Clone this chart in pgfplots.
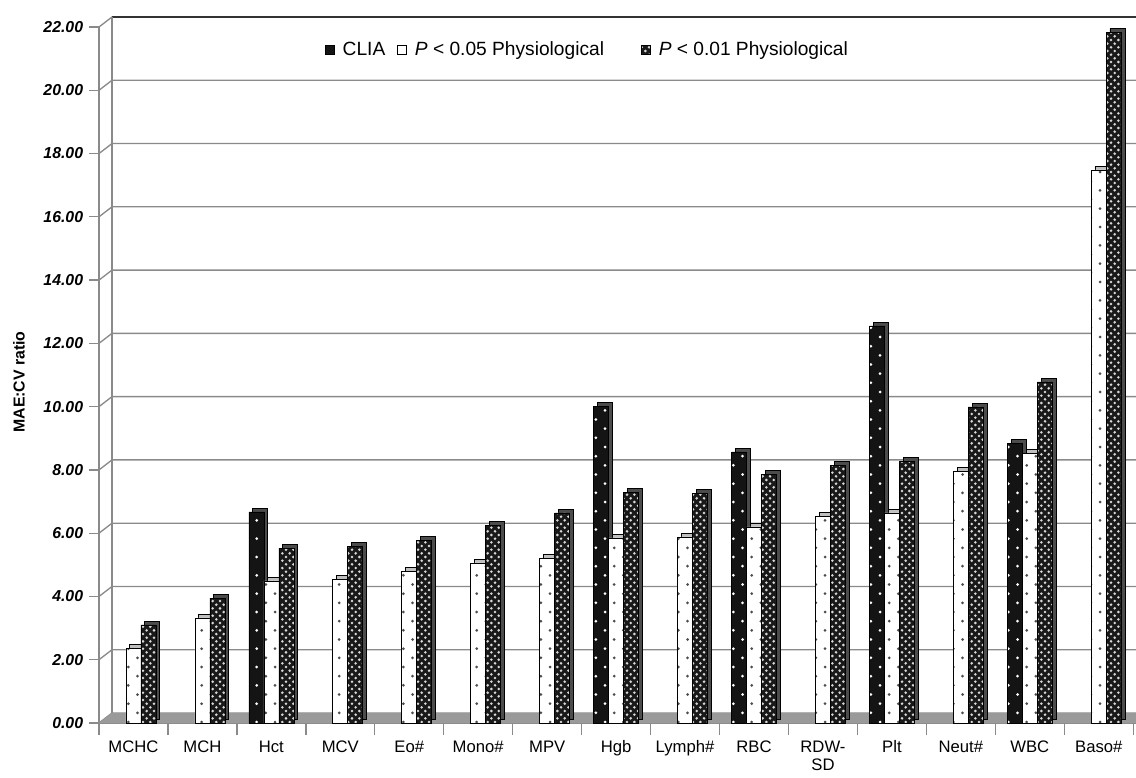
\documentclass[border=0pt]{standalone}
\usepackage{pgfplots}
\pgfplotsset{compat=1.18}
\usepackage{fontspec}
\setmainfont{Liberation Sans}
\usetikzlibrary{patterns}
\pgfdeclarepatternformonly{sparsedots}{\pgfpoint{-1pt}{-1pt}}{\pgfpoint{12pt}{12pt}}{\pgfpoint{11pt}{11pt}}{%
  \pgfpathcircle{\pgfpoint{0pt}{0pt}}{0.9pt}%
  \pgfpathcircle{\pgfpoint{5.5pt}{5.5pt}}{0.9pt}%
  \pgfusepath{fill}}
\pgfdeclarepatternformonly{densedots}{\pgfpoint{-1pt}{-1pt}}{\pgfpoint{5.5pt}{5.5pt}}{\pgfpoint{4.4pt}{4.4pt}}{%
  \pgfpathcircle{\pgfpoint{0pt}{0pt}}{0.85pt}%
  \pgfpathcircle{\pgfpoint{2.2pt}{2.2pt}}{0.85pt}%
  \pgfusepath{fill}}
\definecolor{gridc}{HTML}{8A8A8A}
\definecolor{floorc}{HTML}{9A9A9A}
\begin{document}
\begin{tikzpicture}
\begin{axis}[
  width=622.2pt, height=417.6pt, scale only axis,
  xmin=-0.5, xmax=14.54, ymin=0, ymax=22,
  clip=false,
  axis x line*=bottom, axis y line*=left,
  axis line style={gridc, line width=0.8pt},
  tick align=outside,
  xtick={0,...,14},
  xticklabels={MCHC,MCH,Hct,MCV,Eo\#,Mono\#,MPV,Hgb,Lymph\#,RBC,{RDW-\\SD},Plt,Neut\#,WBC,Baso\#},
  xticklabel style={font=\fontsize{10}{11}\selectfont, align=center, yshift=-1pt},
  major x tick style={draw=none},
  minor xtick={-0.5,0.5,...,14.5},
  minor x tick style={gridc, line width=0.8pt},
  minor tick length=7.2pt,
  ytick={0,2,...,22},
  major tick length=6pt,
  y tick style={gridc, line width=0.8pt},
  yticklabel={\pgfmathprintnumber[fixed,fixed zerofill,precision=2,assume math mode=true]{\tick}},
  yticklabel style={font=\fontsize{9.5}{11}\selectfont\bfseries\itshape},
  ylabel={\bfseries MAE:CV ratio},
  every axis y label/.style={at={(rel axis cs:0,0.49)}, xshift=-48pt, rotate=90, anchor=center, font=\fontsize{9.5}{11}\selectfont},
  legend style={at={(rel axis cs:0.4715,0.967)}, anchor=center, draw=none, fill=none,
    font=\fontsize{11.5}{13}\selectfont, legend columns=3,
    /tikz/column 1/.style={column sep=3pt},
    /tikz/column 2/.style={column sep=5pt},
    /tikz/column 3/.style={column sep=3pt},
    /tikz/column 4/.style={column sep=20pt},
    /tikz/column 5/.style={column sep=3pt}},
  legend image code/.code={\draw[#1] (0pt,-2.6pt) rectangle (5.4pt,2.8pt);},
]
% back grid lines with 3D offset
\pgfplotsinvokeforeach{0,2,...,22}{
  \draw[gridc, line width=0.8pt] (axis cs:-0.5,#1) -- ([shift={(7.8pt,6pt)}]axis cs:-0.5,#1) -- ([shift={(7.8pt,6pt)}]axis cs:14.54,#1);
}
\draw[black!80, line width=0.9pt] ([shift={(7.8pt,6pt)}]axis cs:-0.5,22) -- ([shift={(7.8pt,6pt)}]axis cs:14.54,22);
\draw[gridc, line width=0.8pt] ([shift={(7.8pt,6pt)}]axis cs:-0.5,0) -- ([shift={(7.8pt,6pt)}]axis cs:-0.5,22);
% floor
\fill[floorc] (axis cs:-0.5,0) -- (axis cs:14.54,0) -- ([shift={(7.8pt,6pt)}]axis cs:14.54,0) -- ([shift={(7.8pt,6pt)}]axis cs:-0.5,0) -- cycle;

% shadows (3D sides)
\addplot[ybar, bar width=9pt, bar shift=-9pt, fill=black!70, draw=black, line width=0.3pt, xshift=2.2pt, yshift=2.2pt, forget plot]
  coordinates {(2,6.67) (7,10.02) (9,8.57) (11,12.55) (13,8.85)};
\addplot[ybar, bar width=9pt, bar shift=0pt, fill=black!25, draw=black, line width=0.3pt, xshift=2.2pt, yshift=2.2pt, forget plot]
  coordinates {(0,2.37) (1,3.32) (2,4.49) (3,4.55) (4,4.80) (5,5.06) (6,5.21) (7,5.85) (8,5.88) (9,6.20) (10,6.54) (11,6.64) (12,7.96) (13,8.53) (14,17.48)};
\addplot[ybar, bar width=9pt, bar shift=9pt, fill=black!70, draw=black, line width=0.3pt, xshift=2.2pt, yshift=2.2pt, forget plot]
  coordinates {(0,3.10) (1,3.95) (2,5.53) (3,5.59) (4,5.78) (5,6.25) (6,6.64) (7,7.30) (8,7.27) (9,7.86) (10,8.15) (11,8.28) (12,9.99) (13,10.78) (14,21.84)};

% fronts
\addplot[ybar, bar width=9pt, bar shift=-9pt, fill=black!92, draw=black, line width=0.4pt,
  postaction={pattern=sparsedots, pattern color=white}]
  coordinates {(2,6.67) (7,10.02) (9,8.57) (11,12.55) (13,8.85)};
\addlegendentry{CLIA}
\addplot[ybar, bar width=9pt, bar shift=0pt, fill=white, draw=black, line width=0.4pt,
  postaction={pattern=sparsedots, pattern color=black!70}]
  coordinates {(0,2.37) (1,3.32) (2,4.49) (3,4.55) (4,4.80) (5,5.06) (6,5.21) (7,5.85) (8,5.88) (9,6.20) (10,6.54) (11,6.64) (12,7.96) (13,8.53) (14,17.48)};
\addlegendentry{\textit{P} < 0.05 Physiological}
\addplot[ybar, bar width=9pt, bar shift=9pt, fill=black!90, draw=black, line width=0.4pt,
  postaction={pattern=densedots, pattern color=white!85!black}]
  coordinates {(0,3.10) (1,3.95) (2,5.53) (3,5.59) (4,5.78) (5,6.25) (6,6.64) (7,7.30) (8,7.27) (9,7.86) (10,8.15) (11,8.28) (12,9.99) (13,10.78) (14,21.84)};
\addlegendentry{\textit{P} < 0.01 Physiological}
\coordinate (bl) at (rel axis cs:0,0);
\coordinate (tr) at (rel axis cs:1,1);
\end{axis}
\pgfresetboundingbox
\path ([shift={(-59.4pt,-32.4pt)}]bl) rectangle ([shift={(0pt,16.2pt)}]tr);
\end{tikzpicture}
\end{document}
